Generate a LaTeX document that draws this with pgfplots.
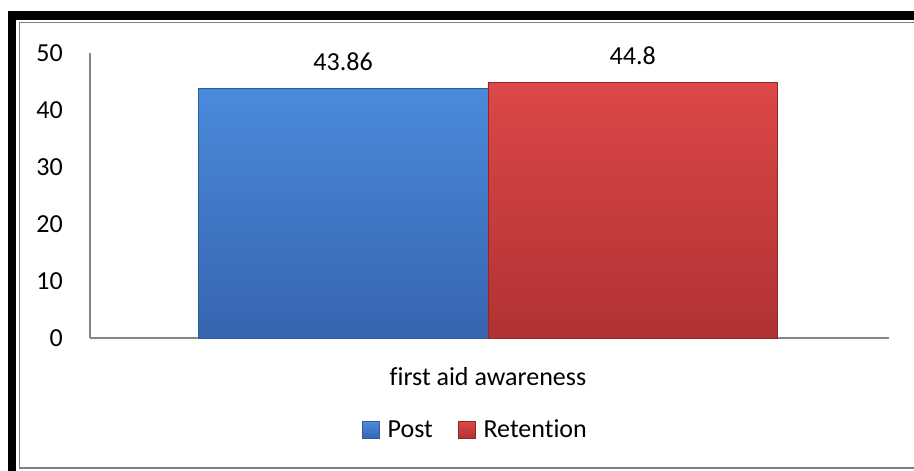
\documentclass[border=0pt]{standalone}
\usepackage{pgfplots}
\pgfplotsset{compat=1.18}
\usepackage{fontspec}
\setmainfont{Carlito}[Ligatures={NoCommon}]
\definecolor{axgray}{HTML}{868686}
\definecolor{framegray}{HTML}{7F7F7F}
\definecolor{btop}{HTML}{4A8BDB}
\definecolor{bbot}{HTML}{3764AF}
\definecolor{bedge}{HTML}{2F5A9E}
\definecolor{rtop}{HTML}{DD4747}
\definecolor{rbot}{HTML}{B03232}
\definecolor{redge}{HTML}{8E2828}
\begin{document}
\fontsize{19.5pt}{23pt}\selectfont
\begin{tikzpicture}
\clip (0pt,0pt) rectangle (685.5pt,-353.25pt);
\fill[white] (0pt,0pt) rectangle (685.5pt,-353.25pt);
\draw[black, line width=6.5pt] (9pt,-11.6pt) rectangle (720pt,-400pt);
\draw[framegray, line width=1.3pt] (14.6pt,-16.9pt) rectangle (720pt,-351pt);
\begin{axis}[
  at={(67.5pt,-253.5pt)}, anchor=south west,
  scale only axis, width=599.25pt, height=213.75pt,
  xmin=-0.996, xmax=1.004, ymin=0, ymax=50,
  enlargelimits=false,
  axis x line=bottom, axis y line=left,
  axis line style={draw=axgray, line width=1.2pt, -},
  major tick length=0pt, tick style={draw=none},
  ytick={0,10,20,30,40,50},
  xtick={0}, xticklabels={first aid awareness},
  /pgf/number format/assume math mode=true,
  yticklabel style={anchor=east, inner sep=0pt, xshift=-20.25pt},
  xticklabel style={anchor=base, inner sep=0pt, yshift=-35.25pt},
  ticklabel style={font=\fontsize{19.5pt}{23pt}\selectfont},
  point meta=explicit symbolic,
  nodes near coords,
  nodes near coords style={anchor=base, inner sep=0pt, yshift=13.5pt, black, font=\fontsize{19.5pt}{23pt}\selectfont},
  legend style={at={(0.483,-0.325)}, anchor=center, draw=none, fill=none,
    inner sep=0pt, font=\fontsize{19.5pt}{23pt}\selectfont,
    nodes={anchor=base west},
    /tikz/every odd column/.append style={column sep=3.75pt},
    /tikz/every even column/.append style={column sep=17pt}},
  legend columns=2,
  legend image code/.code={\path[#1] (0pt,-0.75pt) rectangle (12.75pt,12pt);},
]
\addplot[ybar, bar width=0.7247, bar shift=0pt, draw=bedge, line width=0.5pt, top color=btop, bottom color=bbot]
  coordinates {(-0.3624,43.86) [43.86]};
\addplot[ybar, bar width=0.7247, bar shift=0pt, draw=redge, line width=0.5pt, top color=rtop, bottom color=rbot]
  coordinates {(0.3624,44.8) [44.8]};
\legend{Post, Retention}
\end{axis}
\end{tikzpicture}
\end{document}
